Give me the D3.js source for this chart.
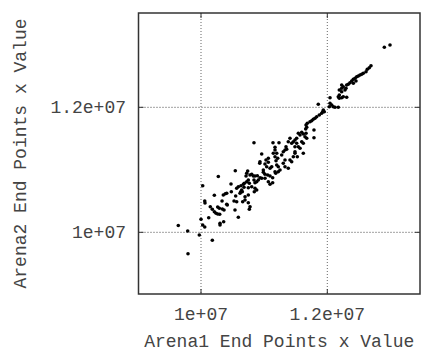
<!DOCTYPE html>
<html>
<head>
<meta charset="utf-8">
<script src="https://cdn.jsdelivr.net/npm/d3@7"></script>
<style>
  body { margin: 0; background: #fff; }
  text { font-family: "Courier New", "Liberation Mono", monospace; fill: #444; }
</style>
</head>
<body>
<svg id="chart" width="423" height="352"></svg>
<script>
// Arena1 vs Arena2 end points x value (millions)
const arena1 = [
  9.640, 9.789, 9.794, 9.973, 10.179, 10.000, 10.027, 10.059, 10.027, 10.059,
  10.063, 10.122, 10.147, 10.211, 10.179, 10.211, 10.238, 10.264, 10.296, 10.301,
  10.301, 10.359, 10.264, 10.290, 10.337, 10.364, 10.333, 10.416, 10.385, 10.475,
  10.480, 10.523, 10.538, 10.549, 10.565, 10.591, 10.629, 10.654, 10.618, 10.591,
  10.670, 10.681, 10.724, 10.749, 10.713, 10.274, 10.765, 10.697, 10.660, 10.697,
  10.839, 11.140, 11.235, 10.961, 11.172, 11.199, 11.172, 11.215, 11.188, 11.029,
  11.066, 11.013, 11.040, 10.930, 10.543, 10.739, 10.724, 10.803, 10.828, 10.855,
  10.892, 10.934, 10.961, 10.987, 11.013, 11.056, 11.093, 11.135, 11.183, 11.224,
  11.066, 11.093, 11.135, 10.686, 10.749, 10.765, 10.839, 10.855, 10.882, 10.907,
  10.803, 10.633, 10.644, 10.855, 10.882, 10.844, 10.407, 10.353, 10.749, 10.565,
  10.407, 10.749, 10.776, 11.663, 11.674, 11.658, 11.789, 11.541, 11.568, 11.595,
  11.620, 11.515, 11.488, 11.462, 11.436, 11.674, 11.409, 11.382, 11.541, 11.568,
  11.346, 11.357, 11.330, 11.303, 11.172, 11.145, 11.488, 11.488, 11.620, 11.462,
  11.525, 11.409, 11.436, 11.278, 11.330, 11.303, 11.066, 10.934, 11.199, 11.224,
  11.330, 11.382, 11.120, 11.093, 10.987, 11.172, 11.251, 10.776, 11.013, 12.190,
  12.228, 12.253, 12.228, 12.280, 12.190, 12.190, 12.228, 12.043, 12.043, 12.032,
  12.070, 12.095, 12.122, 11.857, 11.937, 11.927, 11.911, 11.873, 11.832, 11.805,
  11.778, 11.753, 11.726, 11.683, 11.789, 11.663, 11.647, 11.595, 11.620, 11.515,
  11.488, 12.903, 12.993, 12.692, 12.665, 12.633, 12.613, 12.570, 12.545, 12.518,
  12.491, 12.466, 12.439, 12.412, 12.386, 12.359, 12.332, 12.307, 12.454, 12.412,
  12.228, 12.174, 12.307, 12.253, 12.296, 11.952, 12.174
];
const arena2 = [
  10.109, 10.021, 9.658, 9.957, 9.872, 10.208, 10.117, 10.085, 10.746, 10.501,
  10.469, 10.234, 10.410, 10.592, 10.368, 10.330, 10.304, 10.293, 10.288, 10.144,
  10.117, 10.170, 10.405, 10.384, 10.373, 10.357, 10.501, 10.437, 10.618, 10.773,
  10.650, 10.501, 10.357, 10.581, 10.704, 10.730, 10.650, 10.650, 10.624, 10.240,
  10.768, 10.720, 10.810, 10.714, 10.901, 10.893, 10.368, 10.517, 10.490, 10.570,
  11.434, 11.434, 11.434, 11.253, 11.317, 11.264, 11.210, 11.184, 11.146, 11.157,
  11.120, 11.093, 11.050, 11.104, 10.986, 10.981, 10.944, 10.928, 10.901, 10.901,
  10.906, 10.874, 10.864, 10.960, 10.928, 10.917, 10.901, 10.874, 10.944, 10.970,
  10.810, 10.768, 10.794, 10.784, 10.837, 10.784, 10.837, 10.794, 10.810, 10.837,
  10.730, 10.746, 10.677, 10.704, 10.677, 10.650, 10.624, 10.597, 10.597, 10.490,
  10.448, 10.474, 10.410, 11.717, 11.680, 11.653, 11.514, 11.584, 11.557, 11.600,
  11.573, 11.504, 11.477, 11.450, 11.424, 11.504, 11.504, 11.450, 11.370, 11.344,
  11.370, 11.328, 11.317, 11.290, 11.360, 11.264, 11.290, 11.264, 11.264, 11.210,
  11.210, 11.157, 11.130, 11.237, 11.157, 11.104, 11.184, 11.130, 11.077, 11.050,
  11.050, 11.024, 11.050, 11.024, 10.997, 10.970, 10.997, 10.917, 10.864, 12.277,
  12.304, 12.330, 12.357, 12.277, 12.197, 12.144, 12.154, 12.154, 12.064, 12.010,
  12.037, 12.010, 12.000, 12.048, 11.957, 11.930, 11.904, 11.877, 11.850, 11.824,
  11.808, 11.786, 11.770, 11.744, 11.637, 11.584, 11.530, 11.450, 11.424, 11.424,
  11.370, 12.960, 12.997, 12.666, 12.634, 12.608, 12.570, 12.544, 12.528, 12.517,
  12.501, 12.490, 12.464, 12.448, 12.421, 12.394, 12.368, 12.357, 12.421, 12.384,
  12.250, 12.170, 12.160, 12.170, 12.304, 11.930, 12.000
];
const xTicks = [1.0e7, 1.2e7];
const yTicks = [1.0e7, 1.2e7];
const xTickLabels = ['1e+07', '1.2e+07'];
const yTickLabels = ['1e+07', '1.2e+07'];
const xTitle = 'Arena1 End Points x Value';
const yTitle = 'Arena2 End Points x Value';

const points = arena1.map((v, i) => ({ x: v * 1e6, y: arena2[i] * 1e6 }));

const plotL = 138.5, plotR = 420, plotT = 13, plotB = 294;
const x = d3.scaleLinear().domain([9.01e6, 13.468e6]).range([plotL, plotR]);
const y = d3.scaleLinear().domain([9.013e6, 13.509e6]).range([plotB, plotT]);

const svg = d3.select('#chart');

// grid lines (dotted)
svg.append('g').selectAll('line')
  .data(xTicks).enter().append('line')
  .attr('x1', d => x(d)).attr('x2', d => x(d))
  .attr('y1', plotT).attr('y2', plotB)
  .attr('stroke', '#666').attr('stroke-dasharray', '1,2');
svg.append('g').selectAll('line')
  .data(yTicks).enter().append('line')
  .attr('x1', plotL).attr('x2', plotR)
  .attr('y1', d => y(d)).attr('y2', d => y(d))
  .attr('stroke', '#444').attr('stroke-dasharray', '1,2');

// inward ticks on all four sides
const tickLen = 5;
const tg = svg.append('g').attr('stroke', '#333');
xTicks.forEach(d => {
  tg.append('line').attr('x1', x(d)).attr('x2', x(d)).attr('y1', plotB).attr('y2', plotB - tickLen);
  tg.append('line').attr('x1', x(d)).attr('x2', x(d)).attr('y1', plotT).attr('y2', plotT + tickLen);
});
yTicks.forEach(d => {
  tg.append('line').attr('x1', plotL).attr('x2', plotL + tickLen).attr('y1', y(d)).attr('y2', y(d));
  tg.append('line').attr('x1', plotR).attr('x2', plotR - tickLen).attr('y1', y(d)).attr('y2', y(d));
});

// points
svg.append('g').selectAll('circle')
  .data(points).enter().append('circle')
  .attr('cx', d => x(d.x))
  .attr('cy', d => y(d.y))
  .attr('r', 1.8)
  .attr('fill', '#000');

// frame
svg.append('rect')
  .attr('x', plotL).attr('y', plotT)
  .attr('width', plotR - plotL).attr('height', plotB - plotT)
  .attr('fill', 'none').attr('stroke', '#333').attr('stroke-width', 1.5);

// tick labels
svg.append('g').selectAll('text')
  .data(xTicks).enter().append('text')
  .attr('x', d => x(d)).attr('y', 320)
  .attr('text-anchor', 'middle')
  .style('font-size', '18px')
  .text((d, i) => xTickLabels[i]);
svg.append('g').selectAll('text')
  .data(yTicks).enter().append('text')
  .attr('x', 126).attr('y', d => y(d)).attr('dy', '0.32em')
  .attr('text-anchor', 'end')
  .style('font-size', '18px')
  .text((d, i) => yTickLabels[i]);

// axis titles
svg.append('text')
  .attr('x', (plotL + plotR) / 2).attr('y', 347)
  .attr('text-anchor', 'middle')
  .style('font-size', '18px')
  .text(xTitle);
svg.append('text')
  .attr('transform', 'translate(26,' + (plotT + plotB) / 2 + ') rotate(-90)')
  .attr('text-anchor', 'middle')
  .style('font-size', '18px')
  .text(yTitle);
</script>
</body>
</html>
